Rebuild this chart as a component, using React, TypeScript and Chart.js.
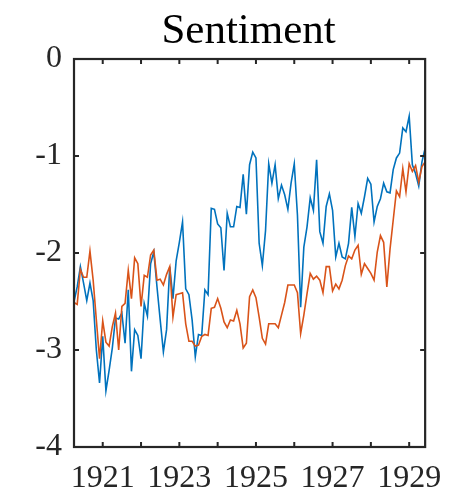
import { useEffect, useRef } from 'react';
import { Chart, registerables } from 'chart.js';

Chart.register(...registerables);

const START_YEAR = 1920;
const START_MONTH = 4;
const TITLE = 'Sentiment';
const yearTicks = [1921, 1922, 1923, 1924, 1925, 1926, 1927, 1928, 1929];
const labeledYears = [1921, 1923, 1925, 1927, 1929];
const yTicks = [0, -1, -2, -3, -4];

const seriesBlue = [
  -2.50, -2.35, -2.14, -2.31, -2.49, -2.31, -2.49, -3.00, -3.34, -2.86,
  -3.42, -3.21, -2.98, -2.67, -2.68, -2.62, -2.93, -2.38, -3.22, -2.79,
  -2.85, -3.09, -2.52, -2.65, -2.11, -1.99, -2.35, -2.69, -3.02, -2.79,
  -2.14, -2.47, -2.08, -1.89, -1.68, -2.37, -2.43, -2.69, -3.07, -2.84,
  -2.85, -2.38, -2.43, -1.54, -1.55, -1.70, -1.74, -2.18, -1.59, -1.73,
  -1.73, -1.52, -1.53, -1.19, -1.60, -1.09, -0.96, -1.02, -1.90, -2.13,
  -1.77, -1.08, -1.28, -1.09, -1.44, -1.30, -1.40, -1.55, -1.28, -1.08,
  -1.61, -2.56, -1.94, -1.73, -1.43, -1.56, -1.04, -1.78, -1.90, -1.52,
  -1.39, -1.56, -2.04, -1.90, -2.04, -2.06, -1.90, -1.53, -1.83, -1.49,
  -1.59, -1.42, -1.23, -1.29, -1.68, -1.52, -1.44, -1.28, -1.37, -1.38,
  -1.14, -1.02, -0.97, -0.71, -0.75, -0.59, -1.09, -1.18, -1.31, -1.06, -0.92,
];

const seriesOrange = [
  -2.51, -2.53, -2.17, -2.25, -2.25, -1.98, -2.28, -2.69, -3.09, -2.70,
  -2.92, -2.96, -2.76, -2.62, -3.00, -2.55, -2.52, -2.18, -2.47, -2.05,
  -2.11, -2.55, -2.23, -2.25, -2.02, -1.97, -2.28, -2.27, -2.33, -2.22,
  -2.14, -2.66, -2.43, -2.42, -2.41, -2.73, -2.91, -2.91, -2.96, -2.95,
  -2.86, -2.84, -2.85, -2.57, -2.56, -2.47, -2.57, -2.71, -2.77, -2.69,
  -2.70, -2.59, -2.73, -2.98, -2.93, -2.45, -2.38, -2.46, -2.66, -2.88,
  -2.94, -2.73, -2.73, -2.73, -2.77, -2.64, -2.51, -2.33, -2.33, -2.33,
  -2.41, -2.83, -2.64, -2.42, -2.21, -2.27, -2.24, -2.28, -2.41, -2.14,
  -2.14, -2.39, -2.32, -2.37, -2.28, -2.13, -2.03, -2.06, -1.97, -1.92,
  -2.22, -2.11, -2.16, -2.21, -2.28, -1.99, -1.82, -1.89, -2.35, -1.96,
  -1.66, -1.36, -1.42, -1.13, -1.37, -1.08, -1.16, -1.10, -1.27, -1.11, -1.06,
];

const monthToX = (i: number) => START_YEAR + (START_MONTH - 1 + i) / 12;
const toPoints = (arr: number[]) => arr.map((v, i) => ({ x: monthToX(i), y: v }));

const AXIS_COLOR = '#262626';
const FONT = 'Liberation Serif, Times New Roman, serif';

const boxPlugin = {
  id: 'matlabBox',
  afterDatasetsDraw(chart: any) {
    const { ctx, chartArea, scales } = chart;
    const { left, right, top, bottom } = chartArea;
    const xs = scales.x;
    const ys = scales.y;
    ctx.save();
    ctx.strokeStyle = AXIS_COLOR;
    ctx.lineWidth = 2.2;
    ctx.strokeRect(left, top, right - left, bottom - top);
    ctx.lineWidth = 2;
    ctx.beginPath();
    const tl = 5;
    yearTicks.forEach((v) => {
      const px = xs.getPixelForValue(v);
      ctx.moveTo(px, bottom);
      ctx.lineTo(px, bottom - tl);
      ctx.moveTo(px, top);
      ctx.lineTo(px, top + tl);
    });
    yTicks.forEach((v) => {
      const py = ys.getPixelForValue(v);
      ctx.moveTo(left, py);
      ctx.lineTo(left + tl, py);
      ctx.moveTo(right, py);
      ctx.lineTo(right - tl, py);
    });
    ctx.stroke();
    // title, centred on the plot box
    ctx.fillStyle = '#000000';
    ctx.font = `normal 43px ${FONT}`;
    ctx.textAlign = 'center';
    ctx.textBaseline = 'alphabetic';
    ctx.fillText(TITLE, (left + right) / 2 - 1, top - 16);
    ctx.restore();
  },
};

export default function App() {
  const ref = useRef<HTMLCanvasElement>(null);

  useEffect(() => {
    if (!ref.current) return;
    const chart = new Chart(ref.current, {
      type: 'line',
      data: {
        datasets: [
          {
            label: 'Series 1',
            data: toPoints(seriesBlue),
            borderColor: '#0072BD',
            backgroundColor: '#0072BD',
            borderWidth: 1.6,
            pointRadius: 0,
            tension: 0,
            order: 1,
          },
          {
            label: 'Series 2',
            data: toPoints(seriesOrange),
            borderColor: '#D95319',
            backgroundColor: '#D95319',
            borderWidth: 1.6,
            pointRadius: 0,
            tension: 0,
            order: 0,
          },
        ],
      },
      options: {
        animation: false,
        responsive: false,
        devicePixelRatio: 1,
        layout: { padding: { left: 0, right: 18, top: 59, bottom: 0 } },
        plugins: {
          legend: { display: false },
          tooltip: { enabled: false },
          title: { display: false },
        },
        scales: {
          x: {
            type: 'linear',
            min: monthToX(0),
            max: monthToX(seriesBlue.length - 1),
            grid: { display: false, drawTicks: false, tickLength: 0 },
            border: { display: false },
            afterBuildTicks: (scale: any) => {
              scale.ticks = yearTicks.map((v) => ({ value: v }));
            },
            afterFit: (scale: any) => {
              scale.height = 45;
            },
            ticks: {
              autoSkip: false,
              maxRotation: 0,
              padding: 12,
              color: AXIS_COLOR,
              font: { family: FONT, size: 32 },
              callback: (v: any) => (labeledYears.includes(Number(v)) ? String(v) : ''),
            },
          },
          y: {
            type: 'linear',
            min: -4,
            max: 0,
            grid: { display: false, drawTicks: false, tickLength: 0 },
            border: { display: false },
            afterBuildTicks: (scale: any) => {
              scale.ticks = yTicks.map((v) => ({ value: v }));
            },
            afterFit: (scale: any) => {
              scale.width = 74;
            },
            ticks: {
              padding: 12,
              color: AXIS_COLOR,
              font: { family: FONT, size: 32 },
              callback: (v: any) => String(v),
            },
          },
        },
      },
      plugins: [boxPlugin],
    });
    return () => chart.destroy();
  }, []);

  return (
    <div style={{ position: 'fixed', left: 0, top: 0, width: 454, height: 492, background: '#fff' }}>
      <canvas ref={ref} width={454} height={492} style={{ display: 'block' }} />
    </div>
  );
}
